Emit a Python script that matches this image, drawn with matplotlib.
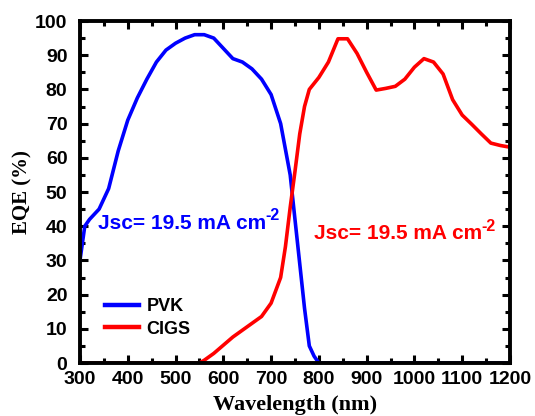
import matplotlib
matplotlib.use("Agg")
import matplotlib.pyplot as plt
from matplotlib.ticker import MultipleLocator

# EQE curves (nm, %)
wl_pvk = [300, 310, 320, 340, 360, 380, 400, 420, 440, 460, 480, 500, 520, 540, 560,
          580, 600, 620, 640, 660, 680, 700, 720, 740, 750, 760, 770, 780, 790, 800,
          900, 1000, 1100, 1200]
eqe_pvk = [30, 40, 42, 45, 51, 62, 71, 77.5, 83, 88, 91.5, 93.5, 95, 96, 96,
           95, 92, 89, 88, 86, 83, 78.5, 70, 55, 42, 29, 16, 5, 2, 0,
           0, 0, 0, 0]

wl_cigs = [300, 400, 500, 550, 560, 580, 600, 620, 640, 660, 680, 700, 720, 730, 740,
           750, 760, 770, 780, 800, 820, 840, 860, 880, 900, 920, 940, 960, 980, 1000,
           1020, 1040, 1060, 1080, 1100, 1120, 1140, 1160, 1180, 1200]
eqe_cigs = [0, 0, 0, 0, 0.8, 2.8, 5.2, 7.6, 9.6, 11.6, 13.6, 17.5, 25, 34, 45.5,
            56, 67, 75, 80, 83.5, 88, 94.8, 94.8, 90.5, 85, 79.8, 80.3, 80.9, 83, 86.5,
            89, 88, 84.5, 77, 72.5, 69.8, 67, 64.3, 63.6, 63.1]

jsc_pvk = "19.5"
jsc_cigs = "19.5"

BLUE = '#0000FF'
RED = '#FF0000'

fig = plt.figure(figsize=(5.35, 4.16), dpi=100)
ax = fig.add_axes([0.1495, 0.1274, 0.8037, 0.8221])

ax.plot(wl_pvk, eqe_pvk, color=BLUE, lw=2.6, label='PVK')
ax.plot(wl_cigs, eqe_cigs, color=RED, lw=2.6, label='CIGS')

ax.set_xlim(300, 1200)
ax.set_ylim(0, 100)
ax.xaxis.set_major_locator(MultipleLocator(100))
ax.xaxis.set_minor_locator(MultipleLocator(50))
ax.yaxis.set_major_locator(MultipleLocator(10))
ax.yaxis.set_minor_locator(MultipleLocator(5))

for s in ax.spines.values():
    s.set_linewidth(2.8)
ax.tick_params(which='both', direction='in', top=True, right=True, width=2.2)
ax.tick_params(which='major', length=6)
ax.tick_params(which='minor', length=3.5)
ax.tick_params(axis='x', which='major', pad=6)
ax.tick_params(axis='y', which='major', pad=9)

for lab in ax.get_xticklabels() + ax.get_yticklabels():
    lab.set_fontfamily('Liberation Sans')
    lab.set_fontweight('bold')
    lab.set_fontsize(14)

ax.set_xlabel('Wavelength (nm)', family='Liberation Serif', weight='bold',
              fontsize=16, labelpad=5)
ax.set_ylabel('EQE (%)', family='Liberation Serif', weight='bold',
              fontsize=15, labelpad=2)


def jsc_label(x, y, value, color):
    # main text, then the "-2" exponent hung off its upper right corner
    t = ax.text(x, y, 'Jsc= %s mA cm' % value, transform=ax.transAxes,
                color=color, family='Liberation Sans', weight='bold',
                fontsize=15, va='center', ha='left')
    ax.annotate('-2', xy=(0.995, 0.5), xycoords=t, color=color,
                family='Liberation Sans', weight='bold', fontsize=11.5,
                va='bottom', ha='left')


jsc_label(0.042, 0.408, jsc_pvk, BLUE)
jsc_label(0.545, 0.378, jsc_cigs, RED)

leg = ax.legend(loc='center left', bbox_to_anchor=(0.058, 0.132), frameon=False,
                prop={'family': 'Liberation Sans', 'weight': 'bold', 'size': 13},
                handlelength=1.9, handletextpad=0.4, labelspacing=0.3,
                borderpad=0, borderaxespad=0)
for h in leg.get_lines():
    h.set_linewidth(3.2)

fig.savefig('out.png', dpi=100)
